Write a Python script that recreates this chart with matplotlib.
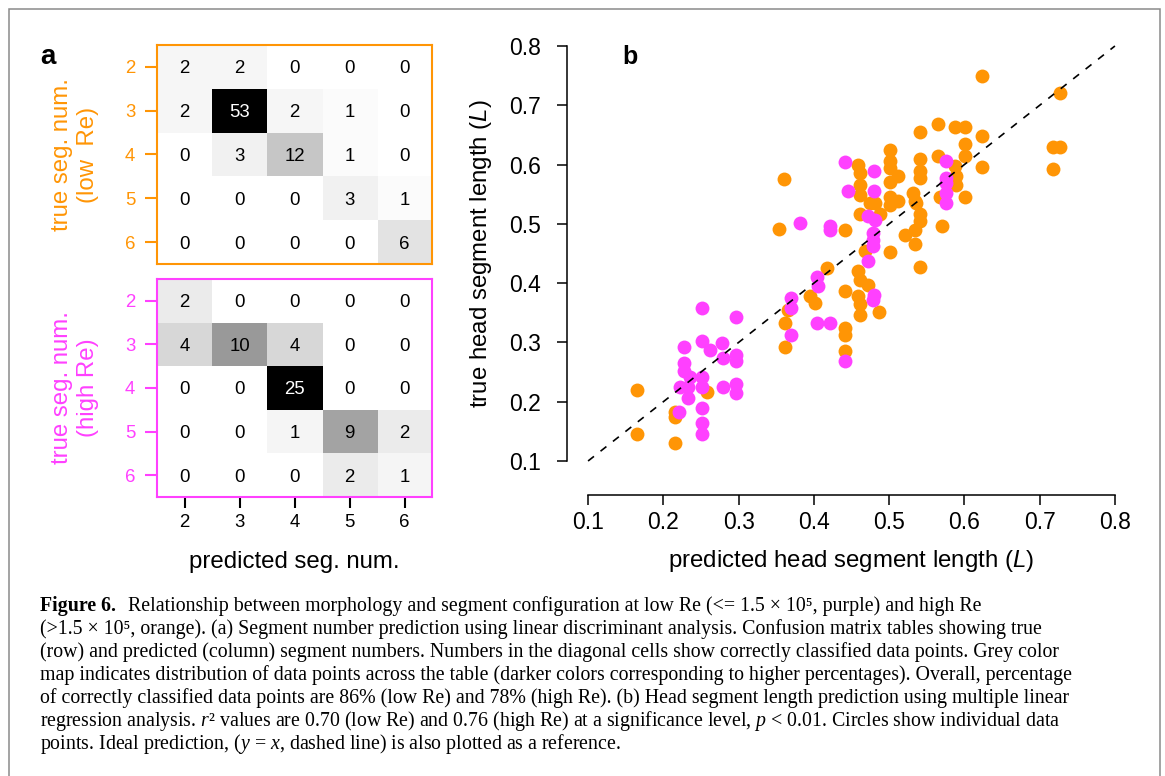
import numpy as np
import matplotlib
matplotlib.use("Agg")
import matplotlib.pyplot as plt
from matplotlib.patches import Rectangle

plt.rcParams['font.family'] = ['Liberation Sans', 'DejaVu Sans']
plt.rcParams['mathtext.fontset'] = 'custom'
plt.rcParams['mathtext.rm'] = 'Liberation Serif'
plt.rcParams['mathtext.it'] = 'Liberation Serif:italic'
plt.rcParams['mathtext.bf'] = 'Liberation Serif:bold'
plt.rcParams['mathtext.sf'] = 'Liberation Sans:italic'

# ---- data ----
seg_nums = [2, 3, 4, 5, 6]
conf_low_re = [[2, 2, 0, 0, 0],
               [2, 53, 2, 1, 0],
               [0, 3, 12, 1, 0],
               [0, 0, 0, 3, 1],
               [0, 0, 0, 0, 6]]
conf_high_re = [[2, 0, 0, 0, 0],
                [4, 10, 4, 0, 0],
                [0, 0, 25, 0, 0],
                [0, 0, 1, 9, 2],
                [0, 0, 0, 2, 1]]

orange_pred = [0.623, 0.727, 0.718, 0.727, 0.718, 0.360, 0.354, 0.441, 0.541, 0.565,
               0.588, 0.601, 0.623, 0.601, 0.601, 0.623, 0.565, 0.541, 0.501, 0.501,
               0.501, 0.512, 0.501, 0.459, 0.461, 0.461, 0.461, 0.541, 0.541, 0.587,
               0.589, 0.589, 0.601, 0.567, 0.532, 0.534, 0.501, 0.501, 0.512, 0.474,
               0.481, 0.461, 0.488, 0.468, 0.501, 0.541, 0.541, 0.534, 0.521, 0.534,
               0.570, 0.541, 0.417, 0.395, 0.401, 0.459, 0.461, 0.472, 0.441, 0.459,
               0.461, 0.461, 0.487, 0.441, 0.441, 0.441, 0.362, 0.362, 0.365, 0.258,
               0.165, 0.216, 0.216, 0.165, 0.216, 0.536]
orange_true = [0.749, 0.720, 0.630, 0.630, 0.592, 0.575, 0.492, 0.490, 0.655, 0.669,
               0.664, 0.664, 0.649, 0.635, 0.614, 0.596, 0.615, 0.610, 0.625, 0.606,
               0.594, 0.580, 0.570, 0.600, 0.586, 0.566, 0.549, 0.589, 0.578, 0.597,
               0.580, 0.566, 0.545, 0.546, 0.552, 0.539, 0.546, 0.532, 0.538, 0.535,
               0.535, 0.516, 0.516, 0.454, 0.452, 0.516, 0.504, 0.490, 0.482, 0.466,
               0.496, 0.427, 0.425, 0.378, 0.366, 0.420, 0.406, 0.397, 0.386, 0.378,
               0.364, 0.347, 0.352, 0.324, 0.313, 0.285, 0.333, 0.293, 0.355, 0.217,
               0.219, 0.183, 0.175, 0.145, 0.130, 0.536]

magenta_pred = [0.382, 0.421, 0.421, 0.441, 0.446, 0.480, 0.480, 0.576, 0.576, 0.576,
                0.576, 0.576, 0.472, 0.481, 0.479, 0.479, 0.479, 0.472, 0.404, 0.406,
                0.480, 0.478, 0.404, 0.421, 0.441, 0.369, 0.369, 0.369, 0.251, 0.297,
                0.227, 0.251, 0.262, 0.278, 0.279, 0.297, 0.297, 0.227, 0.227, 0.235,
                0.251, 0.251, 0.222, 0.233, 0.279, 0.297, 0.297, 0.233, 0.221, 0.251,
                0.251, 0.251]
magenta_true = [0.502, 0.496, 0.490, 0.605, 0.555, 0.590, 0.555, 0.606, 0.578, 0.569,
                0.552, 0.535, 0.513, 0.507, 0.485, 0.473, 0.462, 0.437, 0.411, 0.396,
                0.380, 0.372, 0.333, 0.333, 0.268, 0.375, 0.358, 0.313, 0.358, 0.343,
                0.293, 0.302, 0.288, 0.299, 0.273, 0.279, 0.268, 0.265, 0.251, 0.242,
                0.242, 0.225, 0.225, 0.225, 0.224, 0.230, 0.214, 0.206, 0.183, 0.189,
                0.164, 0.146]

caption_lines = [
    "Relationship between morphology and segment configuration at low Re (<= 1.5 \u00d7 10\u2075, purple) and high Re",
    "(>1.5 \u00d7 10\u2075, orange). (a) Segment number prediction using linear discriminant analysis. Confusion matrix tables showing true",
    "(row) and predicted (column) segment numbers. Numbers in the diagonal cells show correctly classified data points. Grey color",
    "map indicates distribution of data points across the table (darker colors corresponding to higher percentages). Overall, percentage",
    "of correctly classified data points are 86% (low Re) and 78% (high Re). (b) Head segment length prediction using multiple linear",
    "regression analysis. $r$\u00b2 values are 0.70 (low Re) and 0.76 (high Re) at a significance level, $p$ < 0.01. Circles show individual data",
    "points. Ideal prediction, ($y$ = $x$, dashed line) is also plotted as a reference.",
]

ORANGE = '#FF9505'
MAGENTA = '#FF40FF'
SERIF = ['Liberation Serif', 'DejaVu Serif']

W, H = 1165, 776
fig = plt.figure(figsize=(W / 100, H / 100), dpi=100)


def px_axes(left, top, right, bottom):
    return fig.add_axes([left / W, 1 - bottom / H, (right - left) / W, (bottom - top) / H])


def draw_matrix(ax, mat, color, label, show_x):
    mat = np.array(mat)
    ax.imshow(mat, cmap='gray_r', vmin=0, vmax=mat.max(), aspect='auto',
              extent=(1.5, 6.5, 6.5, 1.5), interpolation='nearest')
    for i, t in enumerate(seg_nums):
        for j, p in enumerate(seg_nums):
            v = mat[i, j]
            ax.text(p, t, str(v), ha='center', va='center_baseline', fontsize=13.4,
                    color='white' if v == mat.max() else 'black')
    ax.set_xticks(seg_nums)
    ax.set_yticks(seg_nums)
    for s in ax.spines.values():
        s.set_color(color)
        s.set_linewidth(1.5)
    ax.tick_params(axis='y', colors=color, length=8.6, width=1.5, pad=7, labelsize=13.4)
    if show_x:
        ax.tick_params(axis='x', colors='black', length=8, width=1.5, pad=4, labelsize=13.4)
        ax.set_xlabel("predicted seg. num.", fontsize=17.3)
        ax.xaxis.set_label_coords(0.5, (497 - 562) / 218)
        ax.xaxis.label.set_va('center')
    else:
        ax.tick_params(axis='x', bottom=False, labelbottom=False)
    ax.set_ylabel(label, color=color, fontsize=17.3, linespacing=1.2)
    ax.yaxis.set_label_coords((75 - 157) / 275, 0.5)
    ax.yaxis.label.set_va('center')


ax_low = px_axes(157, 45, 432, 264)
draw_matrix(ax_low, conf_low_re, ORANGE, "true seg. num.\n(low  Re)", False)
ax_high = px_axes(157, 279, 432, 497)
draw_matrix(ax_high, conf_high_re, MAGENTA, "true seg. num.\n(high Re)", True)

# ---- panel b ----
ax = px_axes(567, 29.4, 1136, 477.6)
ax.scatter(orange_pred, orange_true, s=100, color=ORANGE, linewidths=0, zorder=2)
ax.scatter(magenta_pred, magenta_true, s=100, color=MAGENTA, linewidths=0, zorder=3)
ax.plot([0.1, 0.8], [0.1, 0.8], color='black', lw=1.2, ls=(0, (4.5, 5)), zorder=4)
ax.set_xlim(0.072, 0.828)
ax.set_ylim(0.072, 0.828)
ticks = [0.1, 0.2, 0.3, 0.4, 0.5, 0.6, 0.7, 0.8]
ax.set_xticks(ticks)
ax.set_yticks(ticks)
ax.spines['top'].set_visible(False)
ax.spines['right'].set_visible(False)
ax.spines['bottom'].set_position(('outward', 12.5))
ax.spines['bottom'].set_bounds(0.1, 0.8)
ax.spines['left'].set_bounds(0.1, 0.8)
for s in ('bottom', 'left'):
    ax.spines[s].set_linewidth(1.1)
ax.tick_params(axis='x', length=7.5, width=1.1, pad=4, labelsize=16.5)
ax.tick_params(axis='y', length=7.5, width=1.1, pad=11, labelsize=16.5)
ax.set_xlabel("predicted head segment length ($\\mathsf{L}$)", fontsize=17.3)
ax.xaxis.set_label_coords(0.5, (477.6 - 561) / 448.2)
ax.xaxis.label.set_va('center')
ax.set_ylabel("true head segment length ($\\mathsf{L}$)", fontsize=17.3)
ax.yaxis.set_label_coords((481 - 567) / 569, 0.5)
ax.yaxis.label.set_va('center')

fig.text(48 / W, 1 - 57 / H, "a", fontsize=20, fontweight='bold', ha='center', va='center')
fig.text(630 / W, 1 - 57 / H, "b", fontsize=18, fontweight='bold', ha='center', va='center')

# ---- frame and caption ----
fig.add_artist(Rectangle((9 / W, -0.1), (1160 - 9) / W, 1.1 - 9.5 / H, transform=fig.transFigure,
                         fill=False, edgecolor='#8a8a8a', linewidth=1.1))

x0 = 40
cap_size = 14.3
renderer = fig.canvas.get_renderer()
for i, line in enumerate(caption_lines):
    yb = 1 - (611 + 23 * i) / H
    if i == 0:
        t1 = fig.text(x0 / W, yb, "Figure 6.", family=SERIF, fontweight='bold',
                      fontsize=cap_size, va='baseline')
        x1 = t1.get_window_extent(renderer).x1 + 12
        fig.text(x1 / W, yb, line, family=SERIF, fontsize=cap_size, va='baseline')
    else:
        fig.text(x0 / W, yb, line, family=SERIF, fontsize=cap_size, va='baseline')

fig.savefig("out.png", dpi=100)
